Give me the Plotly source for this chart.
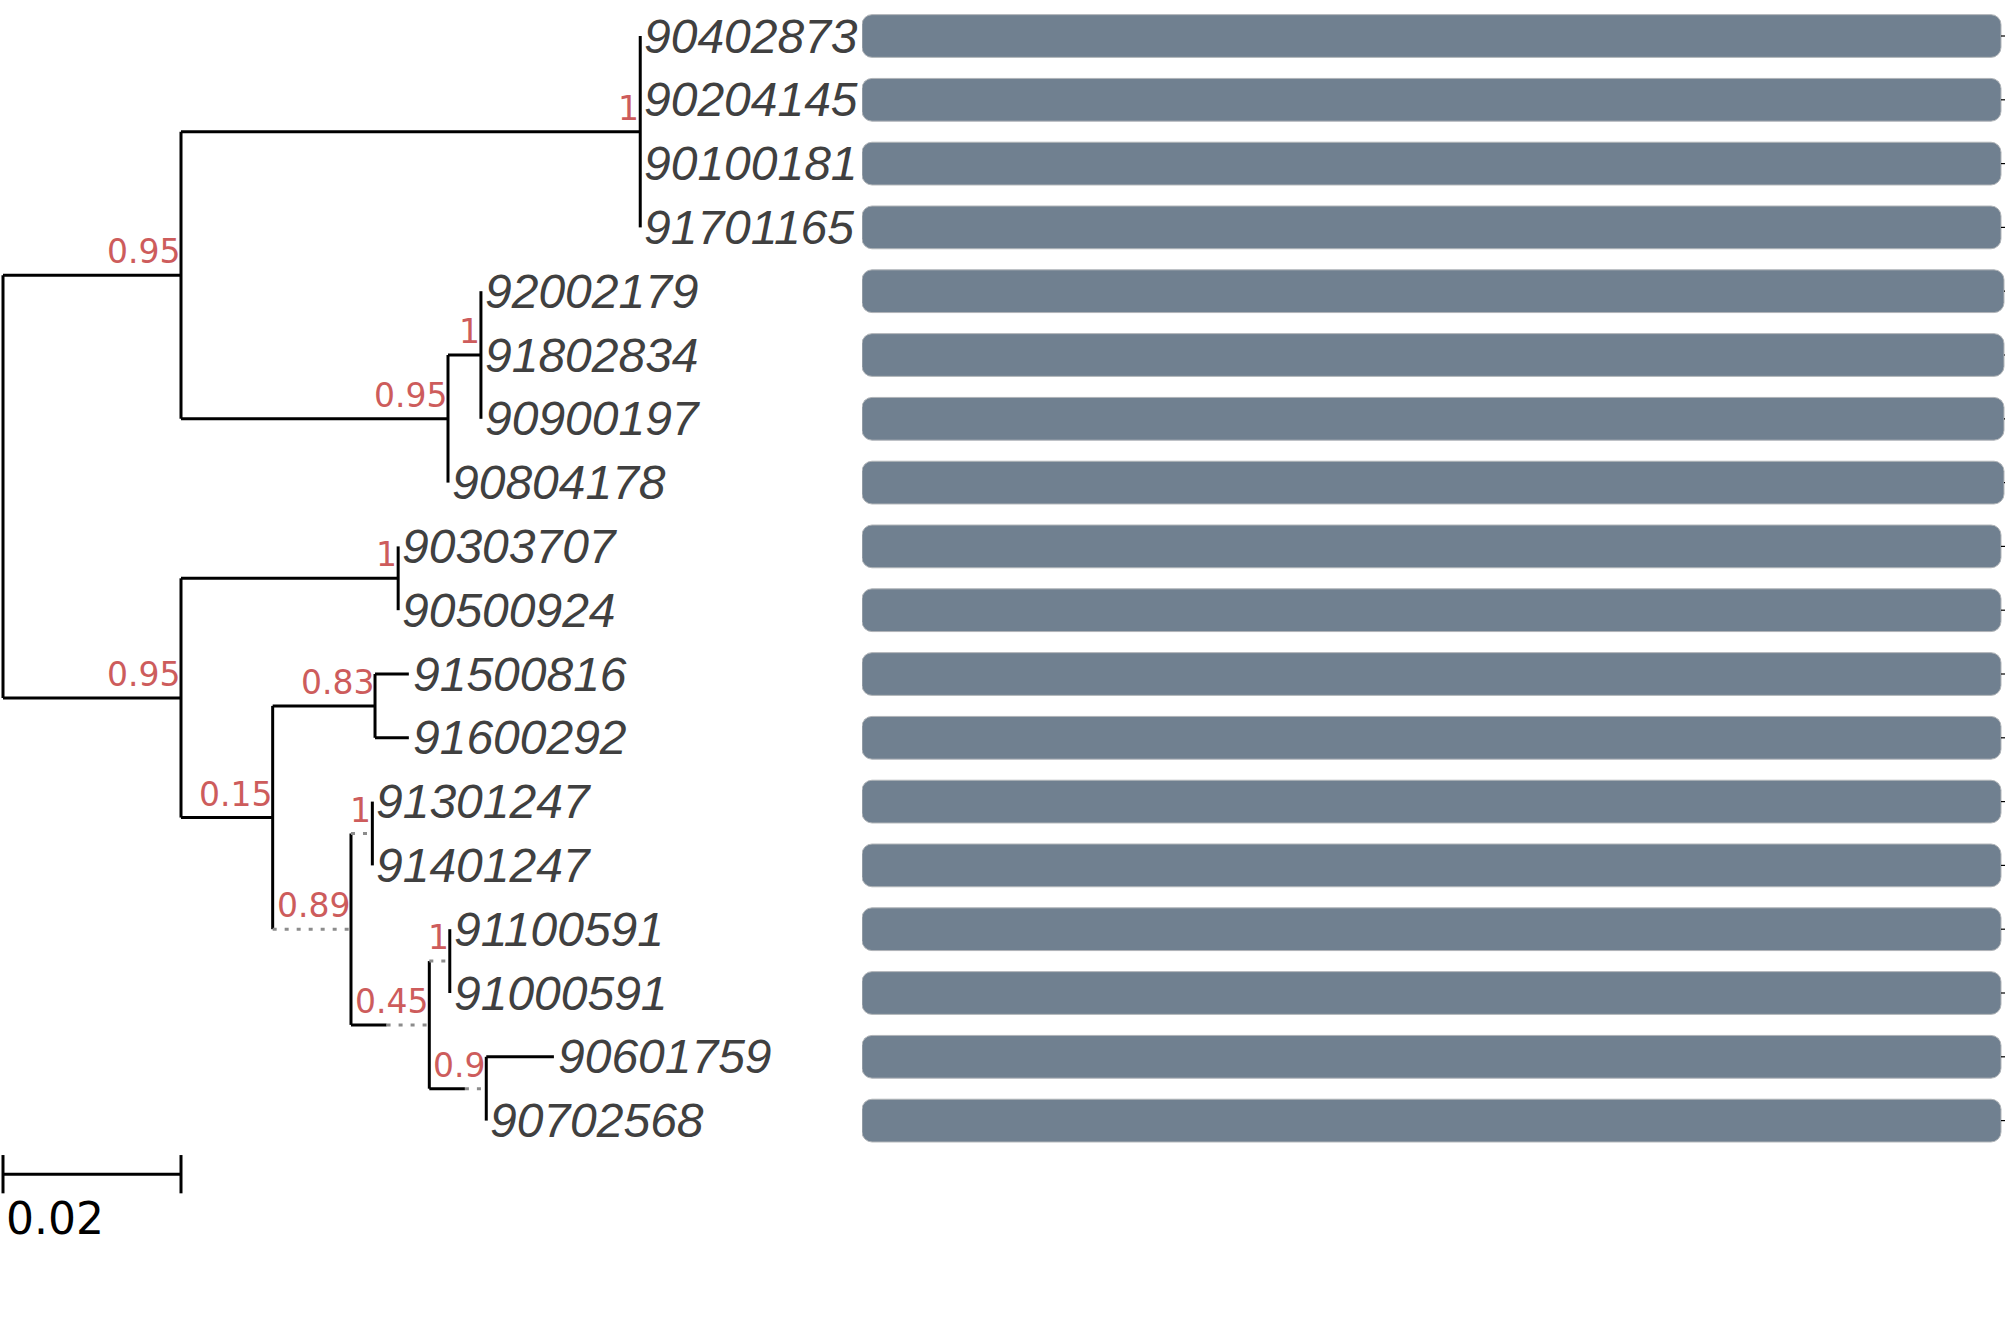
import plotly.graph_objects as go

# ---- data -------------------------------------------------------------
tips = [
    "90402873", "90204145", "90100181", "91701165",
    "92002179", "91802834", "90900197", "90804178",
    "90303707", "90500924", "91500816", "91600292",
    "91301247", "91401247", "91100591", "91000591",
    "90601759", "90702568",
]
tip_parent = [
    "nA1", "nA1", "nA1", "nA1",
    "nA2a", "nA2a", "nA2a", "nA2",
    "nB1", "nB1", "nB2a", "nB2a",
    "nB2b1", "nB2b1", "nB2b2a", "nB2b2a",
    "nB2b2b", "nB2b2b",
]
tip_len = [0, 0, 0, 0, 0, 0, 0, 0, 0, 0,
           0.0038, 0.0038, 0, 0, 0, 0, 0.0076, 0]

nodes = ["root", "nA", "nA1", "nA2", "nA2a", "nB", "nB1", "nB2",
         "nB2a", "nB2b", "nB2b1", "nB2b2", "nB2b2a", "nB2b2b"]
node_parent = [None, "root", "nA", "nA", "nA2", "root", "nB", "nB",
               "nB2", "nB2", "nB2b", "nB2b", "nB2b2", "nB2b2"]
node_len = [0, 0.0200, 0.0516, 0.0300, 0.0037, 0.0200, 0.0244, 0.0103,
            0.0115, 0.0088, 0.0024, 0.0088, 0.0023, 0.0064]
support = ["", "0.95", "1", "0.95", "1", "0.95", "1", "0.15",
           "0.83", "0.89", "1", "0.45", "1", "0.9"]

# branches drawn partly dotted: solid part length
dotted_solid = {"nB2b": 0.0, "nB2b1": 0.0, "nB2b2": 0.0040,
                "nB2b2a": 0.0, "nB2b2b": 0.0040}

gene_start = [0] * 18
gene_end = [1139, 1139, 1139, 1139, 1142, 1142, 1142, 1142, 1139,
            1139, 1139, 1139, 1139, 1139, 1139, 1139, 1139, 1139]
backbone_end = [1143] * 18

scale_len = 0.02
scale_label = "0.02"

# ---- layout of tree ---------------------------------------------------
parent = dict(zip(nodes, node_parent))
blen = dict(zip(nodes, node_len))
for t, p, l in zip(tips, tip_parent, tip_len):
    parent[t] = p
    blen[t] = l

xpos = {}


def get_x(n):
    if n not in xpos:
        p = parent[n]
        xpos[n] = 0.0 if p is None else get_x(p) + blen[n]
    return xpos[n]


for n in list(parent):
    get_x(n)

children = {n: [] for n in nodes}
for n, p in parent.items():
    if p is not None:
        children[p].append(n)

ypos = {t: i for i, t in enumerate(tips)}


def get_y(n):
    if n not in ypos:
        ys = [get_y(c) for c in children[n]]
        ypos[n] = sum(ys) / len(ys)
    return ypos[n]


get_y("root")

solid_x, solid_y, dot_x, dot_y = [], [], [], []
for n, p in parent.items():
    if p is None:
        continue
    x0, x1, y = xpos[p], xpos[n], ypos[n]
    if n in dotted_solid:
        xm = x0 + dotted_solid[n]
        if dotted_solid[n] > 0:
            solid_x += [x0, xm, None]
            solid_y += [y, y, None]
        dot_x += [xm, x1, None]
        dot_y += [y, y, None]
    elif x1 > x0:
        solid_x += [x0, x1, None]
        solid_y += [y, y, None]
for n in nodes:
    ys = [ypos[c] for c in children[n]]
    solid_x += [xpos[n], xpos[n], None]
    solid_y += [min(ys), max(ys), None]

fig = go.Figure()

fig.add_trace(go.Scatter(
    x=solid_x, y=solid_y, mode="lines",
    line=dict(color="black", width=3), hoverinfo="skip",
))
fig.add_trace(go.Scatter(
    x=dot_x, y=dot_y, mode="lines",
    line=dict(color="#8c8c8c", width=3, dash="4px,8px"), hoverinfo="skip",
))

# scale bar
sy = 17.84
fig.add_trace(go.Scatter(
    x=[0, scale_len, None, 0, 0, None, scale_len, scale_len],
    y=[sy, sy, None, sy - 0.3, sy + 0.3, None, sy - 0.3, sy + 0.3],
    mode="lines", line=dict(color="black", width=3), hoverinfo="skip",
))
fig.add_annotation(x=0, y=sy + 0.7, text=scale_label, showarrow=False,
                   xanchor="left", yanchor="middle", xshift=1,
                   font=dict(family="DejaVu Sans", size=44, color="black"))

# tip labels
for t in tips:
    fig.add_annotation(x=xpos[t], y=ypos[t], text=t, showarrow=False,
                       xanchor="left", yanchor="middle", xshift=2,
                       font=dict(family="Liberation Sans", size=48,
                                 color="#404040", style="italic"))

# support values
for n, s in zip(nodes, support):
    if not s:
        continue
    fig.add_annotation(x=xpos[n], y=ypos[n], text=s, showarrow=False,
                       xanchor="right", yanchor="bottom", xshift=1, yshift=2,
                       font=dict(family="DejaVu Sans", size=33,
                                 color="#cd5c5c"))

# backbone ticks beyond gene ends
bb_x, bb_y = [], []
for i, (ge, be) in enumerate(zip(gene_end, backbone_end)):
    if be > ge:
        bb_x += [ge, be, None]
        bb_y += [i, i, None]
fig.add_trace(go.Scatter(
    x=bb_x, y=bb_y, mode="lines", xaxis="x2", yaxis="y",
    line=dict(color="black", width=1.2), hoverinfo="skip",
))

fig.add_trace(go.Bar(
    y=list(range(len(tips))),
    x=[e - s for s, e in zip(gene_start, gene_end)],
    base=gene_start,
    orientation="h", width=0.67,
    xaxis="x2", yaxis="y",
    marker=dict(color="#708090", cornerradius=10,
                line=dict(color="#b0b4b8", width=1)),
    hoverinfo="skip",
))

W, H = 2007, 1333
PX_PER_UNIT, ROW_PX = 8900, 63.8
X0_PX, Y0_PX, BAR_PX = 3, 36, 862
fig.update_layout(
    width=W, height=H,
    margin=dict(l=0, r=0, t=0, b=0),
    plot_bgcolor="white", paper_bgcolor="white",
    showlegend=False,
    xaxis=dict(domain=[0, 1],
               range=[-X0_PX / PX_PER_UNIT, (W - X0_PX) / PX_PER_UNIT],
               visible=False, fixedrange=True),
    xaxis2=dict(domain=[BAR_PX / W, 1], range=[0, W - BAR_PX], anchor="y",
                visible=False, fixedrange=True),
    yaxis=dict(range=[(H - Y0_PX) / ROW_PX, -Y0_PX / ROW_PX], visible=False,
               fixedrange=True),
)

# drop the default page margin so the figure sits at the window corner
fig.write_html("out.html", config={"displayModeBar": False},
               post_script="document.body.style.margin = '0';")
